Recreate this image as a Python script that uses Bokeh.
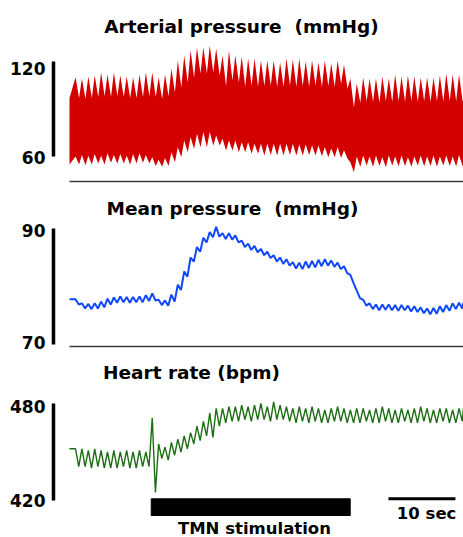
import numpy as np
from bokeh.plotting import figure
from bokeh.layouts import column
from bokeh.models import Range1d
from bokeh.core.properties import value
from bokeh.embed import file_html
from bokeh.resources import INLINE

# ---------------- data ----------------
# time base in seconds; one value per respiratory cycle
t_first = 0.9
resp_period = 0.954
t_end = 58.8
stim_on = [12.2]
stim_off = [41.9]
scale_start = [47.6]
scale_len = 10

# Arterial pressure (mmHg): systolic spikes / troughs, diastolic notches / troughs
ap_sys_peak = [110.1, 109.3, 110.5, 111.2, 113.0, 111.8, 113.0, 111.2, 110.5, 109.9,
               111.8, 113.0, 113.0, 109.9, 111.8, 115.6, 120.6, 123.8, 126.9, 128.8,
               129.0, 130.1, 128.2, 123.8, 127.0, 123.8, 123.2, 121.9, 121.9, 120.6,
               120.6, 120.6, 119.4, 121.9, 121.3, 121.9, 120.0, 120.6, 119.4, 120.6,
               118.7, 120.6, 118.1, 109.3, 106.1, 109.9, 109.3, 109.3, 110.5, 109.3,
               111.8, 110.5, 111.2, 110.5, 109.9, 109.9, 109.9, 111.2, 112.4, 111.8,
               111.8]
ap_sys_trough = [97.0, 96.5, 97.0, 97.5, 98.0, 97.5, 98.0, 97.5, 97.0, 97.0,
                 97.5, 98.0, 97.5, 96.5, 98.0, 100.4, 103.6, 106.7, 109.9, 112.4,
                 112.4, 113.0, 111.2, 104.5, 108.0, 106.7, 104.0, 104.8, 104.0, 104.5,
                 104.8, 104.0, 104.0, 104.8, 104.0, 104.5, 104.0, 104.8, 104.0, 104.5,
                 104.0, 106.0, 103.0, 91.0, 94.0, 95.0, 94.5, 94.0, 95.0, 94.5,
                 95.0, 94.5, 95.0, 94.5, 95.0, 94.5, 95.0, 94.5, 95.0, 95.0,
                 95.0]
ap_dia_peak = [60.0, 61.0, 60.5, 61.5, 60.5, 62.0, 61.0, 61.5, 60.5, 61.5,
               62.0, 61.0, 59.5, 58.0, 59.0, 62.7, 65.9, 70.1, 72.2, 74.3,
               75.4, 75.4, 73.3, 71.2, 70.1, 70.1, 69.0, 69.0, 68.0, 68.0,
               68.0, 68.0, 68.0, 68.0, 68.0, 67.5, 67.5, 67.0, 67.0, 66.0,
               65.0, 66.0, 64.0, 56.4, 60.0, 60.6, 60.0, 60.6, 59.5, 60.6,
               60.0, 60.6, 59.5, 60.0, 60.6, 60.0, 60.6, 60.0, 60.6, 60.0,
               61.0]
ap_dia_trough = [55.0, 54.5, 55.0, 55.5, 55.0, 56.0, 55.5, 55.5, 55.0, 55.5,
                 56.0, 55.5, 54.0, 53.5, 54.0, 56.4, 59.5, 62.7, 64.8, 65.9,
                 65.9, 67.0, 67.0, 63.8, 63.8, 62.7, 62.7, 61.7, 61.7, 60.6,
                 61.0, 60.6, 60.6, 61.0, 60.6, 60.6, 61.0, 60.6, 60.2, 59.5,
                 59.5, 59.0, 58.7, 50.1, 53.5, 54.3, 53.5, 54.0, 53.2, 54.3,
                 53.8, 54.0, 53.5, 54.3, 53.8, 54.0, 53.5, 54.3, 54.0, 53.8,
                 54.0]

# Mean pressure (mmHg): ripple peaks / troughs
map_peak = [77.8, 77.1, 77.0, 77.1, 77.4, 77.9, 78.1, 78.3, 78.2, 78.2,
            78.3, 78.5, 78.8, 77.7, 77.6, 78.6, 80.3, 82.6, 85.0, 86.8,
            88.4, 89.4, 90.3, 89.2, 89.2, 88.8, 87.9, 87.4, 87.0, 86.5,
            86.0, 85.4, 85.0, 84.7, 84.2, 84.1, 84.3, 84.4, 84.6, 84.7,
            84.5, 84.1, 83.5, 82.0, 79.3, 77.7, 77.1, 76.9, 76.9, 76.9,
            76.8, 76.8, 76.7, 76.6, 76.4, 76.2, 76.3, 76.6, 76.8, 77.1,
            77.2]
map_trough = [76.9, 76.2, 76.1, 76.2, 76.4, 76.9, 77.2, 77.3, 77.2, 77.3,
              77.3, 77.5, 77.6, 76.8, 76.7, 77.4, 79.4, 81.7, 84.3, 86.0,
              87.6, 88.5, 88.6, 88.2, 88.1, 87.6, 86.8, 86.3, 85.9, 85.4,
              84.9, 84.3, 83.9, 83.6, 83.1, 83.0, 83.2, 83.3, 83.5, 83.6,
              83.4, 83.0, 82.3, 80.6, 78.0, 76.7, 76.1, 75.9, 76.0, 75.9,
              75.8, 75.9, 75.7, 75.6, 75.4, 75.2, 75.3, 75.6, 75.8, 76.1,
              76.2]

# Heart rate (bpm): peaks / troughs
hr_peak = [452, 452, 451, 452, 451, 450, 451, 450, 451, 450,
           451, 450, 471, 455, 453, 456, 458, 460, 462, 466,
           469, 474, 477, 477, 478, 478, 479, 478, 479, 480,
           478, 481, 479, 478, 477, 478, 477, 478, 477, 476,
           477, 478, 477, 476, 477, 477, 476, 477, 478, 477,
           476, 477, 476, 477, 478, 477, 476, 477, 477, 476,
           477]
hr_trough = [441, 441, 440, 441, 440, 440, 440, 441, 440, 440,
             441, 441, 425, 446, 445, 448, 450, 452, 455, 457,
             460, 459, 466, 468, 469, 469, 470, 469, 470, 470,
             469, 470, 470, 469, 468, 469, 468, 469, 468, 468,
             469, 469, 468, 468, 468, 469, 468, 468, 469, 468,
             468, 469, 468, 468, 469, 468, 468, 469, 468, 468,
             469]

titles = ["Arterial pressure \u00a0(mmHg)", "Mean pressure \u00a0(mmHg)", "Heart rate (bpm)"]
ap_ticks = [60, 120]
map_ticks = [70, 90]
hr_ticks = [420, 480]

# ---------------- build ----------------
FONT = value("DejaVu Sans")
RED = "#d40000"
BLUE = "#1048ff"
GREEN = "#1c6e12"
X_RANGE = (-10.299, 58.806)
BAR_X = -2.39
W = 463

tc = t_first + resp_period * np.arange(len(ap_sys_peak))


def make_fig(h, y0, y1):
    p = figure(width=W, height=h, x_range=Range1d(*X_RANGE), y_range=Range1d(y0, y1),
               x_axis_type=None, y_axis_type=None, toolbar_location=None,
               output_backend="svg", min_border=0, outline_line_color=None,
               background_fill_color="white", border_fill_color="white")
    return p


def scale_bar(p, ticks, offsets):
    p.segment(x0=[BAR_X], y0=[ticks[0]], x1=[BAR_X], y1=[ticks[1]],
              line_width=3.5, line_color="black", line_cap="butt")
    p.text(x=[BAR_X, BAR_X], y=ticks, text=[str(t) for t in ticks],
           x_offset=-8, y_offset=offsets, text_align="right", text_baseline="middle",
           text_font=FONT, text_font_style="bold", text_font_size="17px",
           text_color="black")


def title(p, xc, yc, txt):
    p.text(x=[xc], y=[yc], text=[txt], text_align="center", text_baseline="middle",
           text_font=FONT, text_font_style="bold", text_font_size="18.5px",
           text_color="black")


# Panel 1: arterial pressure band
p1 = make_fig(183, 42.947, 158.526)
xs, up, lo = [0.0], [ap_sys_trough[0]], [ap_dia_trough[0]]
for i, t in enumerate(tc):
    xs += [t, t + resp_period * 0.55]
    up += [ap_sys_peak[i], ap_sys_trough[i]]
    lo += [ap_dia_peak[i], ap_dia_trough[i]]
xs.append(t_end); up.append(ap_sys_trough[-1]); lo.append(ap_dia_trough[-1])
p1.varea(x=xs, y1=lo, y2=up, fill_color=RED)
p1.segment(x0=[0], y0=[44.21], x1=[t_end], y1=[44.21], line_color="#3a3a3a", line_width=1.4)
scale_bar(p1, ap_ticks, [1, 7])
title(p1, 25.67, 142.1, titles[0])

# Panel 2: mean pressure
p2 = make_fig(169, 68.621, 97.759)
xb, yb = [0.0], [map_peak[0]]
for i, t in enumerate(tc):
    xb += [t, t + resp_period / 2]
    yb += [map_peak[i], map_trough[i]]
xb.append(t_end); yb.append(map_peak[-1])
p2.line(xb, yb, line_color=BLUE, line_width=2)
p2.segment(x0=[0], y0=[69.655], x1=[t_end], y1=[69.655], line_color="#3a3a3a", line_width=1.4)
scale_bar(p2, map_ticks, [-2, 2])
title(p2, 24.33, 93.45, titles[1])

# Panel 3: heart rate
p3 = make_fig(185, 397.113, 511.546)
xh, yh = [0.0], [hr_peak[0]]
for i, t in enumerate(tc):
    xh += [t, t + resp_period / 2]
    yh += [hr_peak[i], hr_trough[i]]
xh.append(t_end); yh.append(hr_peak[-1])
p3.line(xh, yh, line_color=GREEN, line_width=1.4)
scale_bar(p3, hr_ticks, [0, 3])
title(p3, 18.21, 499.2, titles[2])

# stimulation bar and time scale
p3.quad(left=stim_on, right=stim_off, bottom=[410.72], top=[421.05], fill_color="black", line_color="black")
p3.segment(x0=scale_start, y0=[421.1], x1=[scale_start[0] + scale_len], y1=[421.1],
           line_width=3, line_color="black", line_cap="butt")
p3.text(x=[scale_start[0] + scale_len / 2 + 0.7], y=[411.96], text=["10 sec"],
        text_align="center", text_baseline="middle", text_font=FONT,
        text_font_style="bold", text_font_size="16.5px", text_color="black")
p3.text(x=[(stim_on[0] + stim_off[0]) / 2 + 0.55], y=[402.4], text=["TMN stimulation"],
        text_align="center", text_baseline="middle", text_font=FONT,
        text_font_style="bold", text_font_size="16.5px", text_color="black")

layout = column(p1, p2, p3, spacing=0)
open("out.html", "w").write(file_html(layout, INLINE))
